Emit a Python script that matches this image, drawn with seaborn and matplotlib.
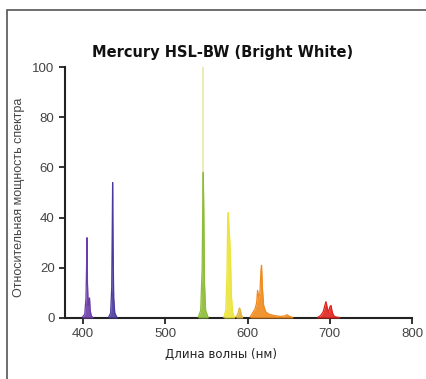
import numpy as np
import pandas as pd
import matplotlib.pyplot as plt
import seaborn as sns
from matplotlib.patches import Rectangle

# Spectrum peaks (wavelength in nm, relative power)
violet_wl = [399, 402, 403.5, 404.3, 404.7, 405.3, 406.2, 407.3, 407.8, 408.6, 410, 412]
violet_val = [0.3, 1.5, 8, 22, 32, 14, 5, 7, 8, 3, 0.8, 0.2]

indigo_wl = [431, 433.5, 434.8, 435.5, 435.9, 436.4, 437.2, 438.5, 441]
indigo_val = [0.3, 2, 12, 38, 54, 30, 8, 2, 0.3]

green_wl = [540, 543, 544.8, 545.6, 546.1, 546.7, 547.6, 549, 552]
green_val = [0.3, 3, 20, 48, 58, 45, 14, 3, 0.3]

spike_wl = [546.1]
spike_val = [100]

yellow_wl = [571, 573.5, 575, 575.8, 576.6, 577.4, 578.2, 579.2, 580.5, 582, 584]
yellow_val = [0.3, 3, 18, 40, 42, 36, 32, 24, 8, 2, 0.3]

amber_wl = [586, 588.5, 590, 591, 592.5, 594]
amber_val = [0.3, 2, 4, 3.5, 1.2, 0.3]

orange_wl = [603, 606, 609, 611, 612.2, 613.5, 615, 616.3, 617, 618, 619.5, 622, 626, 632, 640, 645, 648, 651, 655]
orange_val = [0.3, 2, 3.5, 6, 11, 8, 10, 19, 21, 12, 5, 2.5, 1.5, 1, 0.6, 0.8, 1.3, 0.6, 0.2]

red_wl = [685, 689, 692, 694, 695.3, 696.8, 698.5, 700.2, 701.5, 702.8, 704.5, 707, 712]
red_val = [0.2, 1, 2.5, 5, 6.5, 4.2, 2.2, 4.5, 5, 2.5, 1, 0.4, 0.2]

x_ticks = [400, 500, 600, 700, 800]
y_ticks = [0, 20, 40, 60, 80, 100]

title = "Mercury HSL-BW (Bright White)"
x_label = "Длина волны (нм)"
y_label = "Относительная мощность спектра"

segments = [
    (violet_wl, violet_val, "#6a3ea8"),
    (indigo_wl, indigo_val, "#4a3a9c"),
    (green_wl, green_val, "#8dbd3a"),
    (yellow_wl, yellow_val, "#ece43a"),
    (amber_wl, amber_val, "#e2b43c"),
    (orange_wl, orange_val, "#f0891c"),
    (red_wl, red_val, "#e0231e"),
]

sns.set_style("ticks")
plt.rcParams['font.family'] = ['Liberation Sans', 'DejaVu Sans']

fig = plt.figure(figsize=(4.26, 3.79), dpi=100)
ax = fig.add_axes([0.1526, 0.161, 0.8146, 0.662])

# thin pale line of the 546 nm spike
ax.vlines(spike_wl, 0, spike_val, color="#e9e7a6", linewidth=1.2, zorder=2)

for wl, val, col in segments:
    seg = pd.DataFrame({"wl": wl, "val": val})
    ax.fill_between(seg["wl"], 0, seg["val"], color=col, linewidth=0, alpha=0.9, zorder=3)
    sns.lineplot(data=seg, x="wl", y="val", color=col, linewidth=0.9, ax=ax, zorder=3)

ax.set_xlim(378, 800)
ax.set_ylim(0, 100)
ax.set_xticks(x_ticks)
ax.set_yticks(y_ticks)
ax.tick_params(axis="both", labelsize=9.5, colors="#222222", length=4, width=1.3,
               labelcolor="#444444")
ax.spines["left"].set_linewidth(1.5)
ax.spines["bottom"].set_linewidth(1.5)
ax.spines["left"].set_color("#222222")
ax.spines["bottom"].set_color("#222222")
sns.despine(ax=ax)

ax.set_xlabel(x_label, fontsize=8.5, family="DejaVu Sans", color="#222222")
ax.set_ylabel(y_label, fontsize=9, color="#444444")
ax.xaxis.set_label_coords(0.45, -0.12)
ax.yaxis.set_label_coords(-0.115, 0.48)

fig.text(0.522, 0.862, title, ha="center", va="center", fontsize=10.5,
         fontweight="bold", family="DejaVu Sans", color="#111111")

# outer frame of the picture
fig.patches.append(Rectangle((7 / 426, -0.05), 1.2, 1 - 10 / 379 + 0.05,
                             transform=fig.transFigure, fill=False,
                             edgecolor="#555555", linewidth=1.2))

fig.savefig("out.png", dpi=100)
